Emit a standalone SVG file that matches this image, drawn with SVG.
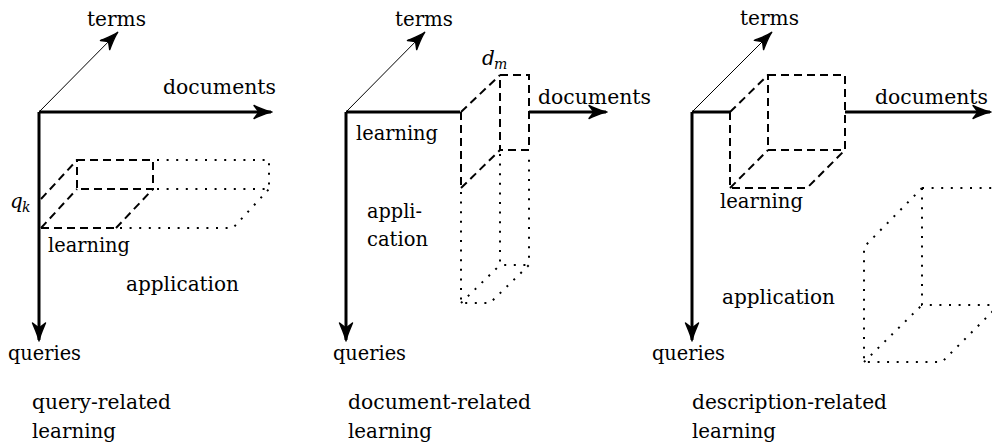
<svg xmlns="http://www.w3.org/2000/svg" width="992" height="444" viewBox="0 0 992 444">
<style>
.t{font-family:"DejaVu Serif","Liberation Serif",serif;font-size:20px;fill:#000}
.it{font-style:italic}
.sub{font-size:14px;font-style:italic}
.ax{fill:none;stroke:#000;stroke-width:3}
.tm{fill:none;stroke:#000;stroke-width:1}
.da{fill:none;stroke:#000;stroke-width:2;stroke-dasharray:8 5}
.do{fill:none;stroke:#000;stroke-width:2;stroke-dasharray:2 7.6}
</style>
<defs>
<marker id="ah" markerUnits="userSpaceOnUse" markerWidth="22" markerHeight="16" refX="19" refY="8" orient="auto" viewBox="0 0 22 16">
<path d="M20,8 C14,7 8,4 2,1.5 L7,8 L2,14.5 C8,12 14,9 20,8 Z" fill="#000" stroke="#000" stroke-width="1.4" stroke-linejoin="round"/>
</marker>
</defs>
<g id="connectors">
<path class="ax" d="M39,112 H271" marker-end="url(#ah)"/>
<path class="ax" d="M39,112 V340" marker-end="url(#ah)"/>
<path class="tm" d="M39,112 L117,33" marker-end="url(#ah)"/>
<path class="ax" d="M346,112 H460"/>
<path class="ax" d="M529,112 H606" marker-end="url(#ah)"/>
<path class="ax" d="M346,112 V340" marker-end="url(#ah)"/>
<path class="tm" d="M346,112 L424,33" marker-end="url(#ah)"/>
<path class="ax" d="M692,112 H730"/>
<path class="ax" d="M845,112 H990" marker-end="url(#ah)"/>
<path class="ax" d="M692,112 V340" marker-end="url(#ah)"/>
<path class="tm" d="M692,112 L771,33" marker-end="url(#ah)"/>
</g>
<g id="panel1">
<g id="p1-learning">
<path class="da" d="M77,160 H153 V189 H77 Z"/>
<path class="da" d="M41,228 H116"/>
<path class="da" d="M41,199 L77,160"/>
<path class="da" d="M41,228 L77,189"/>
<path class="da" d="M116,228 L153,189"/>
</g>
<g id="p1-application">
<path class="do" d="M157,160 H269 V189"/>
<path class="do" d="M157,189 H269"/>
<path class="do" d="M120,228 H233 L269,189"/>
</g>
<text class="t" x="87" y="26" textLength="59" lengthAdjust="spacingAndGlyphs">terms</text>
<text class="t" x="163" y="94" textLength="113" lengthAdjust="spacingAndGlyphs">documents</text>
<text class="t it" x="10" y="208">q</text><text class="t sub" x="22" y="212">k</text>
<text class="t" x="48" y="252" textLength="82" lengthAdjust="spacingAndGlyphs">learning</text>
<text class="t" x="126" y="291" textLength="113" lengthAdjust="spacingAndGlyphs">application</text>
<text class="t" x="8" y="360" textLength="73" lengthAdjust="spacingAndGlyphs">queries</text>
<text class="t" x="32" y="409" textLength="139" lengthAdjust="spacingAndGlyphs">query-related</text>
<text class="t" x="32" y="438" textLength="84" lengthAdjust="spacingAndGlyphs">learning</text>
</g>
<g id="panel2">
<g id="p2-learning">
<path class="da" d="M500,75 H529 V150 H500 Z"/>
<path class="da" d="M461,112 V188"/>
<path class="da" d="M461,112 L500,75"/>
<path class="da" d="M461,188 L500,150"/>
</g>
<g id="p2-application">
<path class="do" d="M461,192 V303 H490 L529,265 V154"/>
<path class="do" d="M500,154 V265 H529"/>
<path class="do" d="M461,303 L500,265"/>
</g>
<text class="t" x="395" y="26" textLength="58" lengthAdjust="spacingAndGlyphs">terms</text>
<text class="t it" x="482" y="65">d</text><text class="t sub" x="494" y="69">m</text>
<text class="t" x="538" y="104" textLength="113" lengthAdjust="spacingAndGlyphs">documents</text>
<text class="t" x="356" y="140" textLength="82" lengthAdjust="spacingAndGlyphs">learning</text>
<text class="t" x="367" y="218" textLength="55" lengthAdjust="spacingAndGlyphs">appli-</text>
<text class="t" x="367" y="246" textLength="61" lengthAdjust="spacingAndGlyphs">cation</text>
<text class="t" x="333" y="360" textLength="73" lengthAdjust="spacingAndGlyphs">queries</text>
<text class="t" x="348" y="409" textLength="183" lengthAdjust="spacingAndGlyphs">document-related</text>
<text class="t" x="348" y="438" textLength="84" lengthAdjust="spacingAndGlyphs">learning</text>
</g>
<g id="panel3">
<g id="p3-learning">
<path class="da" d="M768,75 H845 V150 H768 Z"/>
<path class="da" d="M730,112 V188 H807 L845,150"/>
<path class="da" d="M730,112 L768,75"/>
<path class="da" d="M730,188 L768,150"/>
</g>
<g id="p3-application">
<path class="do" d="M922,188 H992"/>
<path class="do" d="M922,188 V305 H992"/>
<path class="do" d="M922,188 L864,247 V362 H942 L1000,304"/>
<path class="do" d="M864,362 L922,305"/>
</g>
<text class="t" x="740" y="25" textLength="59" lengthAdjust="spacingAndGlyphs">terms</text>
<text class="t" x="875" y="104" textLength="113" lengthAdjust="spacingAndGlyphs">documents</text>
<text class="t" x="720" y="208" textLength="83" lengthAdjust="spacingAndGlyphs">learning</text>
<text class="t" x="722" y="304" textLength="113" lengthAdjust="spacingAndGlyphs">application</text>
<text class="t" x="652" y="360" textLength="73" lengthAdjust="spacingAndGlyphs">queries</text>
<text class="t" x="692" y="409" textLength="195" lengthAdjust="spacingAndGlyphs">description-related</text>
<text class="t" x="692" y="438" textLength="84" lengthAdjust="spacingAndGlyphs">learning</text>
</g>
</svg>
